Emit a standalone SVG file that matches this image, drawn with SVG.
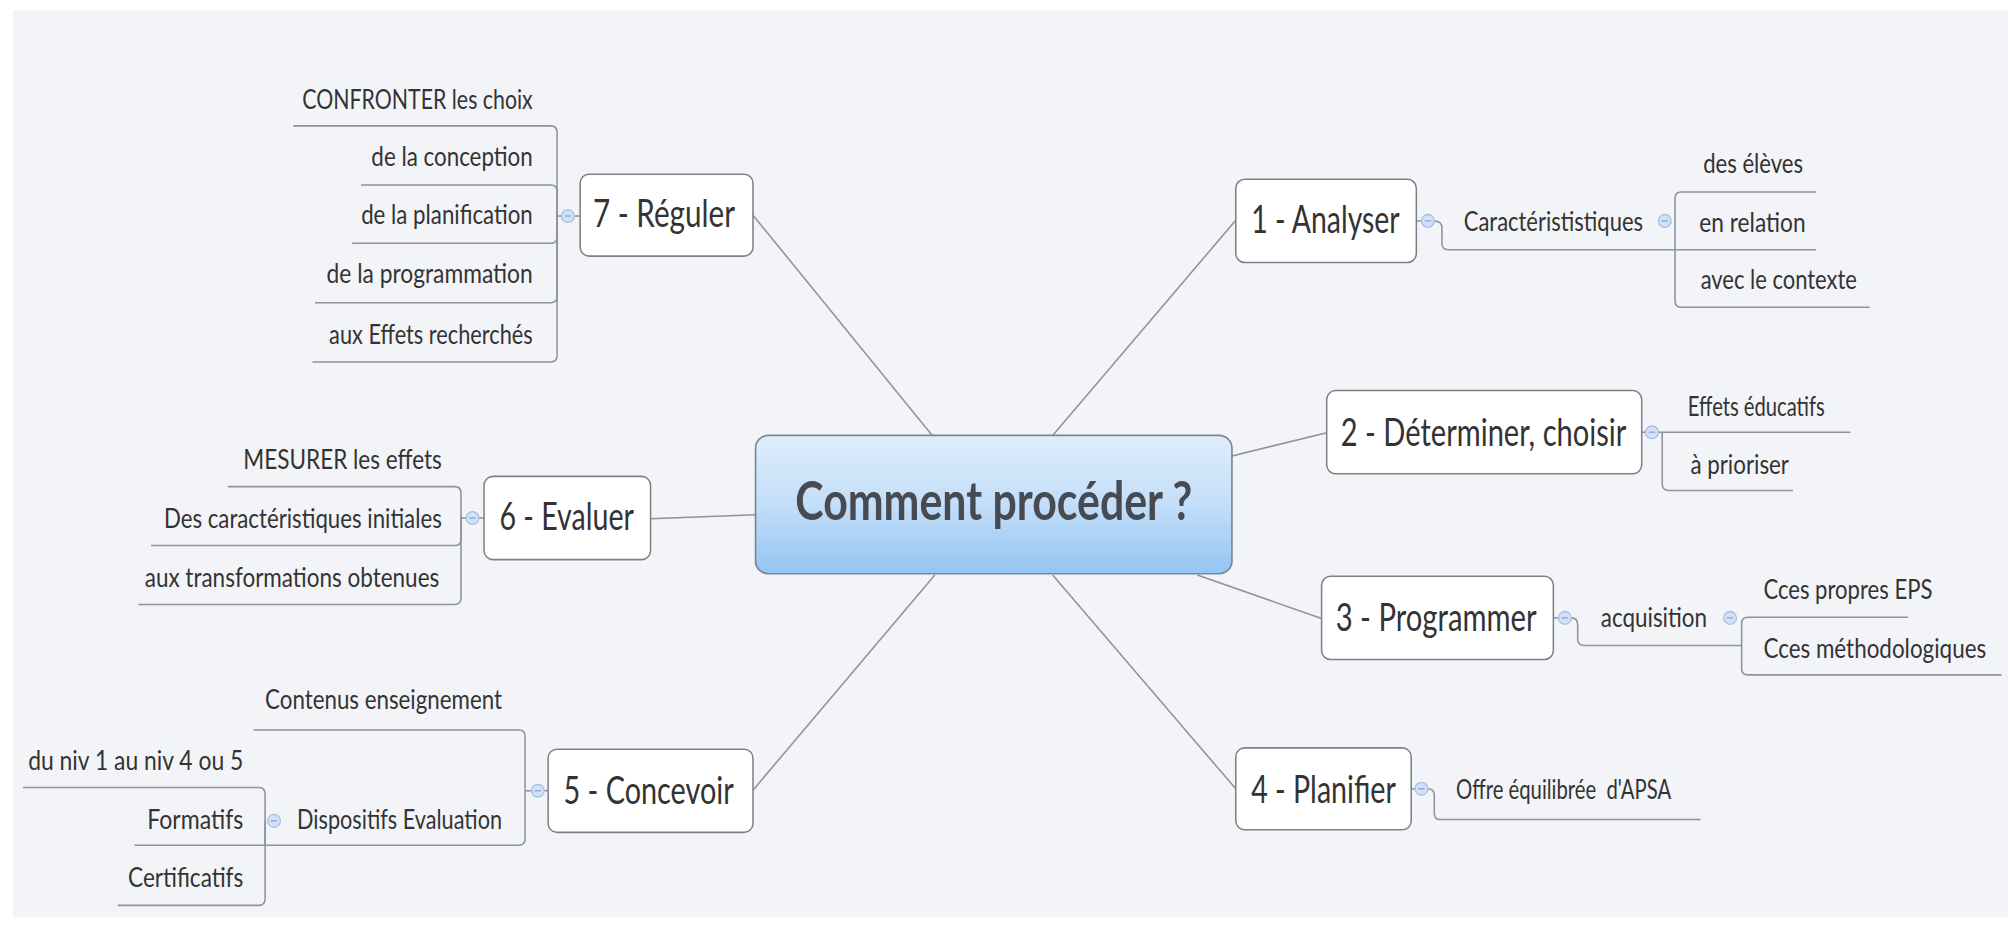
<svg xmlns="http://www.w3.org/2000/svg" width="2008" height="946" viewBox="0 0 2008 946">
<defs>
<linearGradient id="cg" x1="0" y1="0" x2="0" y2="1">
<stop offset="0" stop-color="#dfedfc"/>
<stop offset="0.5" stop-color="#c3def9"/>
<stop offset="1" stop-color="#93c5f4"/>
</linearGradient>
<style>
.bg{fill:#f3f4f8}
.ln{fill:none;stroke:#8d929b;stroke-width:1.2}
.box{fill:#ffffff;stroke:#7d8087;stroke-width:1.2}
.nt{font-family:Lato,"Liberation Sans",sans-serif;font-size:30px;fill:#333333}
.ct{font-family:Lato,"Liberation Sans",sans-serif;font-size:21px;fill:#333333;white-space:pre}
.tt{font-family:Lato,"Open Sans","Liberation Sans",sans-serif;font-size:42px;font-weight:bold;fill:#474a50}
.cb{fill:#d2e1f6;stroke:#a7bfe6;stroke-width:1}
.cm{stroke:#8aa5cf;stroke-width:1}
</style>
</defs>
<rect width="2008" height="946" fill="#ffffff"/>
<g transform="scale(1.2806)">
<rect class="bg" x="10" y="8" width="1558" height="708"/>

<g id="connectors">
<path class="ln" d="M728,340 L588,168"/>
<path class="ln" d="M822,340 L965,172"/>
<path class="ln" d="M962,356 L1036,338"/>
<path class="ln" d="M935,449 L1032,483"/>
<path class="ln" d="M822,449 L965,616"/>
<path class="ln" d="M730,449 L588,617"/>
<path class="ln" d="M590,402 L508,405"/>
</g>

<g id="center">
<rect x="590" y="340" width="372" height="108" rx="10" fill="url(#cg)" stroke="#7b8696" stroke-width="1.3"/>
<text class="tt" x="776" y="406" text-anchor="middle" textLength="310" lengthAdjust="spacingAndGlyphs">Comment procéder ?</text>
</g>

<g id="n7">
<path class="ln" d="M435,168.7 H453"/>
<path class="ln" d="M435,168.7 V103.3 Q435,98.3 430,98.3 H229"/>
<path class="ln" d="M435,168.7 V149.5 Q435,144.5 430,144.5 H282"/>
<path class="ln" d="M435,168.7 V185 Q435,190 430,190 H275"/>
<path class="ln" d="M435,168.7 V231.4 Q435,236.4 430,236.4 H246"/>
<path class="ln" d="M435,168.7 V277.6 Q435,282.6 430,282.6 H244"/>
<circle class="cb" cx="443.5" cy="168.7" r="5"/><path class="cm" d="M441,168.7 H446"/>
<rect class="box" x="453" y="136" width="135" height="64" rx="7"/>
<text class="nt" x="463" y="177" textLength="111" lengthAdjust="spacingAndGlyphs">7 - Réguler</text>
<text class="ct" x="416" y="85" text-anchor="end" textLength="180" lengthAdjust="spacingAndGlyphs">CONFRONTER les choix</text>
<text class="ct" x="416" y="130" text-anchor="end" textLength="126" lengthAdjust="spacingAndGlyphs">de la conception</text>
<text class="ct" x="416" y="175" text-anchor="end" textLength="134" lengthAdjust="spacingAndGlyphs">de la planification</text>
<text class="ct" x="416" y="221" text-anchor="end" textLength="161" lengthAdjust="spacingAndGlyphs">de la programmation</text>
<text class="ct" x="416" y="269" text-anchor="end" textLength="159" lengthAdjust="spacingAndGlyphs">aux Effets recherchés</text>
</g>

<g id="n6">
<path class="ln" d="M360,404.5 H378"/>
<path class="ln" d="M360,404.5 V385 Q360,380 355,380 H178"/>
<path class="ln" d="M360,404.5 V421 Q360,426 355,426 H118"/>
<path class="ln" d="M360,404.5 V467 Q360,472 355,472 H108"/>
<circle class="cb" cx="369" cy="404.5" r="5"/><path class="cm" d="M366.5,404.5 H371.5"/>
<rect class="box" x="378" y="372" width="130" height="65" rx="7"/>
<text class="nt" x="390" y="414" textLength="105" lengthAdjust="spacingAndGlyphs">6 - Evaluer</text>
<text class="ct" x="345" y="366" text-anchor="end" textLength="155" lengthAdjust="spacingAndGlyphs">MESURER les effets</text>
<text class="ct" x="345" y="412" text-anchor="end" textLength="217" lengthAdjust="spacingAndGlyphs">Des caractéristiques initiales</text>
<text class="ct" x="343" y="458" text-anchor="end" textLength="230" lengthAdjust="spacingAndGlyphs">aux transformations obtenues</text>
</g>

<g id="n5">
<path class="ln" d="M410,617.5 H428"/>
<path class="ln" d="M410,617.5 V575 Q410,570 405,570 H198"/>
<path class="ln" d="M410,617.5 V655 Q410,660 405,660 H207"/>
<circle class="cb" cx="420" cy="617.5" r="5"/><path class="cm" d="M417.5,617.5 H422.5"/>
<rect class="box" x="428" y="585" width="160" height="65" rx="7"/>
<text class="nt" x="440" y="628" textLength="133" lengthAdjust="spacingAndGlyphs">5 - Concevoir</text>
<text class="ct" x="392" y="554" text-anchor="end" textLength="185" lengthAdjust="spacingAndGlyphs">Contenus enseignement</text>
<text class="ct" x="392" y="647" text-anchor="end" textLength="160" lengthAdjust="spacingAndGlyphs">Dispositifs Evaluation</text>
</g>

<g id="n5b">
<path class="ln" d="M207,641 V620 Q207,615 202,615 H18"/>
<path class="ln" d="M207,641 V660 H105"/>
<path class="ln" d="M207,641 V702 Q207,707 202,707 H92"/>
<circle class="cb" cx="214" cy="641" r="5"/><path class="cm" d="M211.5,641 H216.5"/>
<text class="ct" x="190" y="601" text-anchor="end" textLength="168" lengthAdjust="spacingAndGlyphs">du niv 1 au niv 4 ou 5</text>
<text class="ct" x="190" y="647" text-anchor="end" textLength="75" lengthAdjust="spacingAndGlyphs">Formatifs</text>
<text class="ct" x="190" y="693" text-anchor="end" textLength="90" lengthAdjust="spacingAndGlyphs">Certificatifs</text>
</g>

<g id="n1">
<path class="ln" d="M1106,172.5 H1110"/>
<path class="ln" d="M1120,172.5 Q1126,172.5 1126,178 V190 Q1126,195 1131,195 H1308"/>
<circle class="cb" cx="1115" cy="172.5" r="5"/><path class="cm" d="M1112.5,172.5 H1117.5"/>
<rect class="box" x="965" y="140" width="141" height="65" rx="7"/>
<text class="nt" x="977" y="182" textLength="116" lengthAdjust="spacingAndGlyphs">1 - Analyser</text>
<text class="ct" x="1143" y="180" textLength="140" lengthAdjust="spacingAndGlyphs">Caractérististiques</text>
</g>

<g id="n1b">
<path class="ln" d="M1308,195 V155 Q1308,150 1313,150 H1418"/>
<path class="ln" d="M1308,195 H1418"/>
<path class="ln" d="M1308,195 V235 Q1308,240 1313,240 H1460"/>
<circle class="cb" cx="1300" cy="172.5" r="5"/><path class="cm" d="M1297.5,172.5 H1302.5"/>
<text class="ct" x="1330" y="135" textLength="78" lengthAdjust="spacingAndGlyphs">des élèves</text>
<text class="ct" x="1327" y="181" textLength="83" lengthAdjust="spacingAndGlyphs">en relation</text>
<text class="ct" x="1328" y="226" textLength="122" lengthAdjust="spacingAndGlyphs">avec le contexte</text>
</g>

<g id="n2">
<path class="ln" d="M1282,337.5 H1285"/>
<path class="ln" d="M1295,337.5 H1445"/>
<path class="ln" d="M1298,337.5 V378 Q1298,383 1303,383 H1400"/>
<circle class="cb" cx="1290" cy="337.5" r="5"/><path class="cm" d="M1287.5,337.5 H1292.5"/>
<rect class="box" x="1036" y="305" width="246" height="65" rx="7"/>
<text class="nt" x="1047" y="348" textLength="223" lengthAdjust="spacingAndGlyphs">2 - Déterminer, choisir</text>
<text class="ct" x="1318" y="325" textLength="107" lengthAdjust="spacingAndGlyphs">Effets éducatifs</text>
<text class="ct" x="1320" y="370" textLength="77" lengthAdjust="spacingAndGlyphs">à prioriser</text>
</g>

<g id="n3">
<path class="ln" d="M1213,482.5 H1217"/>
<path class="ln" d="M1227,482.5 Q1232,482.5 1232,488 V499 Q1232,504 1237,504 H1360"/>
<circle class="cb" cx="1222" cy="482.5" r="5"/><path class="cm" d="M1219.5,482.5 H1224.5"/>
<rect class="box" x="1032" y="450" width="181" height="65" rx="7"/>
<text class="nt" x="1043" y="493" textLength="157" lengthAdjust="spacingAndGlyphs">3 - Programmer</text>
<text class="ct" x="1250" y="490" textLength="83" lengthAdjust="spacingAndGlyphs">acquisition</text>
</g>

<g id="n3b">
<path class="ln" d="M1360,504 V487 Q1360,482 1365,482 H1490"/>
<path class="ln" d="M1360,504 V522 Q1360,527 1365,527 H1563"/>
<circle class="cb" cx="1351" cy="482.5" r="5"/><path class="cm" d="M1348.5,482.5 H1353.5"/>
<text class="ct" x="1377" y="468" textLength="132" lengthAdjust="spacingAndGlyphs">Cces propres EPS</text>
<text class="ct" x="1377" y="514" textLength="174" lengthAdjust="spacingAndGlyphs">Cces méthodologiques</text>
</g>

<g id="n4">
<path class="ln" d="M1102,616 H1105"/>
<path class="ln" d="M1115,616 Q1120,616 1120,621 V635 Q1120,640 1125,640 H1328"/>
<circle class="cb" cx="1110" cy="616" r="5"/><path class="cm" d="M1107.5,616 H1112.5"/>
<rect class="box" x="965" y="584" width="137" height="64" rx="7"/>
<text class="nt" x="977" y="627" textLength="113" lengthAdjust="spacingAndGlyphs">4 - Planifier</text>
<text class="ct" x="1137" y="624" textLength="168" lengthAdjust="spacingAndGlyphs" xml:space="preserve">Offre équilibrée  d'APSA</text>
</g>
</g>
</svg>
